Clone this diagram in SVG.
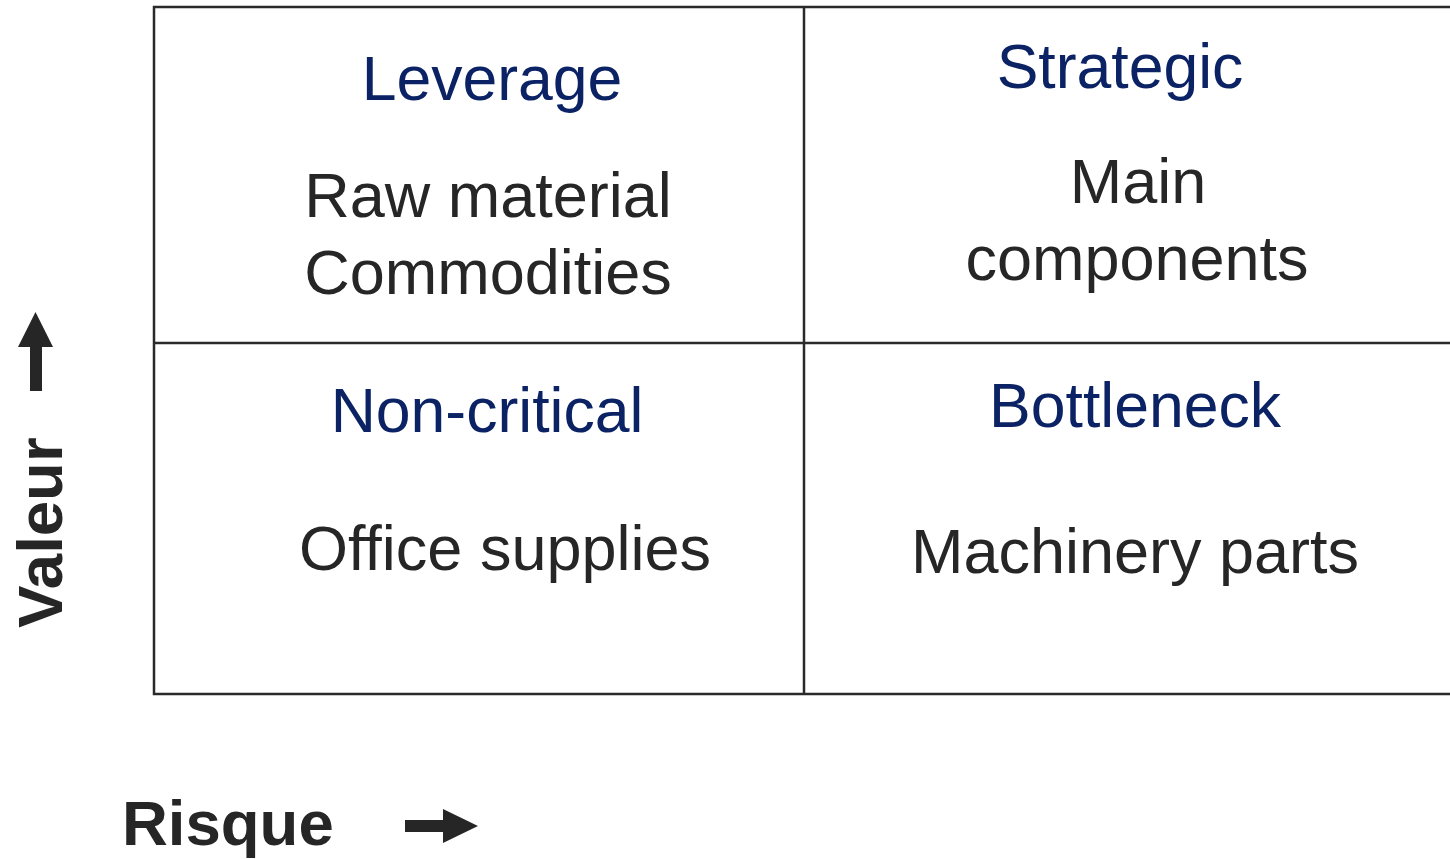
<svg xmlns="http://www.w3.org/2000/svg" width="1450" height="859" viewBox="0 0 1450 859">
<style>
.title{font-family:"Liberation Sans",Arial,sans-serif;font-size:62.5px;fill:#0b2365;text-anchor:middle}
.body{font-family:"Liberation Sans",Arial,sans-serif;font-size:63px;fill:#262626;text-anchor:middle}
.axis{font-family:"Liberation Sans",Arial,sans-serif;font-size:63.5px;font-weight:bold;fill:#262626}
.grid{stroke:#2a2a2a;stroke-width:2.5;fill:none}
.arrow{fill:#262626}
</style>
<rect width="1450" height="859" fill="#ffffff"/>
<g id="connectors">
<path class="grid" d="M1452,7 H154 V694 H1452 M804,7 V694 M154,343 H1452"/>
</g>
<g id="leverage">
<text class="title" x="492" y="100">Leverage</text>
<text class="body" x="488" y="217">Raw material</text>
<text class="body" x="488" y="294">Commodities</text>
</g>
<g id="strategic">
<text class="title" x="1120" y="88">Strategic</text>
<text class="body" x="1138" y="203">Main</text>
<text class="body" x="1137" y="280">components</text>
</g>
<g id="noncritical">
<text class="title" x="487" y="432">Non-critical</text>
<text class="body" x="505" y="570">Office supplies</text>
</g>
<g id="bottleneck">
<text class="title" x="1135" y="427">Bottleneck</text>
<text class="body" x="1135" y="573">Machinery parts</text>
</g>
<g id="axis-valeur">
<text class="axis" transform="translate(62,628) rotate(-90)">Valeur</text>
<polygon class="arrow" points="35.5,312 53,347 42,347 42,391 30,391 30,347 18,347"/>
</g>
<g id="axis-risque">
<text class="axis" x="122" y="845">Risque</text>
<polygon class="arrow" points="478,826 443,809 443,820 405,820 405,832 443,832 443,843"/>
</g>
</svg>
